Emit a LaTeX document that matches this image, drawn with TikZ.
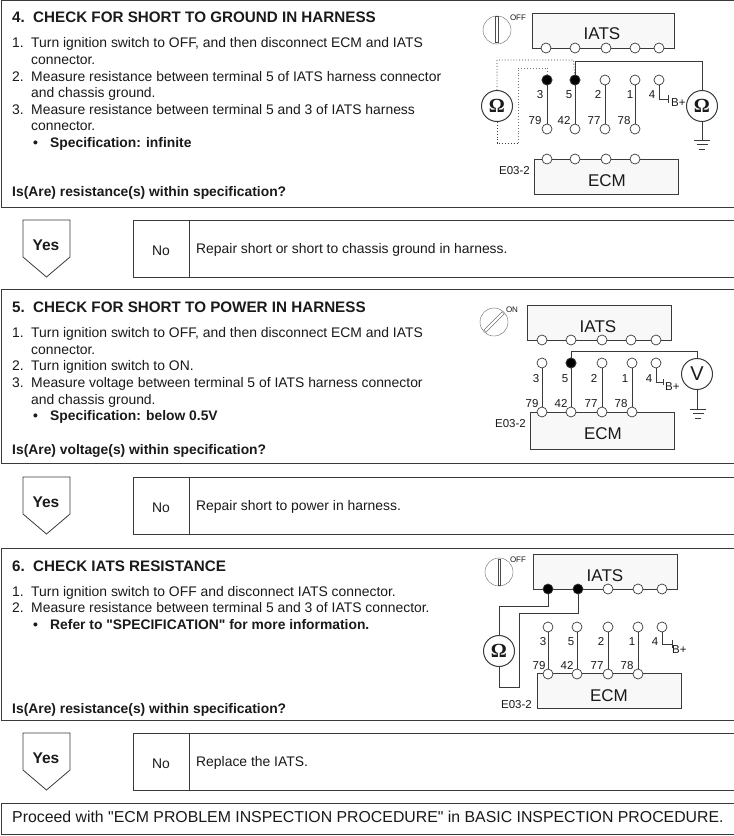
\documentclass[tikz,border=0pt]{standalone}
\usepackage{fontspec}
\setmainfont{Liberation Sans}[Ligatures=TeXOff]
\newfontfamily\meterfont{Liberation Serif}
\usetikzlibrary{calc}

\definecolor{inkline}{HTML}{3A3A3A}
\definecolor{inktext}{HTML}{1A1A1A}
\definecolor{unitfill}{HTML}{F8F8F8}

\tikzset{
    frame/.style={draw=inkline, line width=0.9pt, fill=white, inner sep=0pt, anchor=north west},
    unitbox/.style={draw=inkline, line width=0.8pt, fill=unitfill, inner sep=0pt, minimum width=#1, minimum height=35pt},
    unitname/.style={font=\fontsize{17}{17}\selectfont, text=inktext, inner sep=0pt},
    pin/.style={circle, draw=inkline, line width=0.7pt, fill=white, inner sep=0pt, minimum size=10pt},
    pinon/.style={pin, fill=black},
    pinlabel/.style={font=\fontsize{11.5}{11.5}\selectfont, text=inktext, inner sep=0pt, anchor=base},
    wire/.style={draw=inkline, line width=0.8pt},
    probe/.style={draw=inkline, line width=0.9pt, dotted},
    probegray/.style={draw=black!55, line width=0.9pt, dotted},
    meter/.style={circle, draw=inkline, line width=1pt, fill=white, inner sep=0pt, minimum size=31pt, text=inktext},
    dial/.style={circle, draw=black!60, line width=0.4pt, inner sep=0pt, minimum size=28pt},
    needle/.style={draw=black!70, line width=0.5pt, fill=white, inner sep=0pt, minimum width=3pt, minimum height=26pt},
    keylabel/.style={font=\fontsize{8}{8}\selectfont, text=inktext, inner sep=0pt},
    head/.style={font=\bfseries\fontsize{15.2}{15.2}\selectfont, text=inktext, anchor=base west, inner sep=0pt},
    body/.style={font=\fontsize{13.9}{13.9}\selectfont, text=inktext, anchor=base west, inner sep=0pt},
    strong/.style={body, font=\bfseries\fontsize{13.85}{13.85}\selectfont},
}

% Earth symbol below a named coordinate
\newcommand{\earth}[1]{%
    \draw[wire] ($(#1)+(-8,0)$) -- ($(#1)+(8,0)$);
    \draw[wire] ($(#1)+(-5.5,4.5)$) -- ($(#1)+(5.5,4.5)$);
    \draw[wire] ($(#1)+(-3,9)$) -- ($(#1)+(3,9)$);
}

\begin{document}
\begin{tikzpicture}[x=1pt,y=-1pt]
    \useasboundingbox (0,0) rectangle (734,836);

    % Step frames
    \node[frame, minimum width=733pt, minimum height=207pt] (stepfour) at (0.5,0) {};
    \node[frame, minimum width=733pt, minimum height=174pt] (stepfive) at (0.5,289) {};
    \node[frame, minimum width=733pt, minimum height=172pt] (stepsix) at (0.5,548) {};
    \node[frame, minimum width=733pt, minimum height=31pt] (stepend) at (0.5,803) {};

    % Yes arrows and No boxes
    \foreach \n/\y/\txt in {a/220/Repair short or short to chassis ground in harness.,
                            b/477/Repair short to power in harness.,
                            c/733/Replace the IATS.}{
        \draw[wire] (23,\y) -- (70,\y) -- (70,\y+37) -- (46.5,\y+57) -- (23,\y+37) -- cycle;
        \node[font=\bfseries\fontsize{15.5}{15.5}\selectfont, text=inktext] (yes\n) at (46,\y+25) {Yes};
        \node[frame, minimum width=601pt, minimum height=57pt] (nobox\n) at (133,\y) {};
        \draw[wire] (189,\y) -- (189,\y+57);
        \node[font=\fontsize{13.9}{13.9}\selectfont, text=inktext] (no\n) at (161,\y+30.5) {No};
        \node[body] (fix\n) at (196,\y+33.7) {\txt};
    }

    % Step 4 text
    \node[head] (titlefour) at (12,22) {4.\hspace{0.55em}CHECK FOR SHORT TO GROUND IN HARNESS};
    \node[body] (fa) at (12,47.5) {1.};
    \node[body] (fb) at (31,47.5) {Turn ignition switch to OFF, and then disconnect ECM and IATS};
    \node[body] (fc) at (31,64) {connector.};
    \node[body] (fd) at (12,81) {2.};
    \node[body] (fe) at (31,81) {Measure resistance between terminal 5 of IATS harness connector};
    \node[body] (ff) at (31,97.5) {and chassis ground.};
    \node[body] (fg) at (12,114) {3.};
    \node[body] (fh) at (31,114) {Measure resistance between terminal 5 and 3 of IATS harness};
    \node[body] (fi) at (31,130.5) {connector.};
    \node[strong] (fj) at (33,147) {•};
    \node[strong] (fk) at (50,147) {Specification: infinite};
    \node[strong] (fl) at (12,196) {Is(Are) resistance(s) within specification?};

    % Step 5 text
    \node[head] (titlefive) at (12,312) {5.\hspace{0.55em}CHECK FOR SHORT TO POWER IN HARNESS};
    \node[body] (va) at (12,337) {1.};
    \node[body] (vb) at (31,337) {Turn ignition switch to OFF, and then disconnect ECM and IATS};
    \node[body] (vc) at (31,354) {connector.};
    \node[body] (vd) at (12,370.5) {2.};
    \node[body] (ve) at (31,370.5) {Turn ignition switch to ON.};
    \node[body] (vf) at (12,387) {3.};
    \node[body] (vg) at (31,387) {Measure voltage between terminal 5 of IATS harness connector};
    \node[body] (vh) at (31,404) {and chassis ground.};
    \node[strong] (vi) at (33,420.5) {•};
    \node[strong] (vj) at (50,420.5) {Specification: below 0.5V};
    \node[strong] (vk) at (12,454) {Is(Are) voltage(s) within specification?};

    % Step 6 text
    \node[head] (titlesix) at (12,571) {6.\hspace{0.55em}CHECK IATS RESISTANCE};
    \node[body] (sa) at (12,596) {1.};
    \node[body] (sb) at (31,596) {Turn ignition switch to OFF and disconnect IATS connector.};
    \node[body] (sc) at (12,612.5) {2.};
    \node[body] (sd) at (31,612.5) {Measure resistance between terminal 5 and 3 of IATS connector.};
    \node[strong] (se) at (33,629) {•};
    \node[strong] (sf) at (50,629) {Refer to "SPECIFICATION" for more information.};
    \node[strong] (sg) at (12,713) {Is(Are) resistance(s) within specification?};

    % Closing line
    \node[font=\fontsize{15.85}{15.85}\selectfont, text=inktext, anchor=base west, inner sep=0pt] (closing) at (12,822.5)
        {Proceed with "ECM PROBLEM INSPECTION PROCEDURE" in BASIC INSPECTION PROCEDURE.};

    % ---- Circuit of step 4 ----
    \node[dial] (dialf) at (497,30) {};
    \node[needle] (needlef) at (497,29) {};
    \node[keylabel] (keyf) at (518,18) {OFF};
    \node[unitbox=142pt] (iatsf) at (603,30.5) {};
    \node[unitname] (iatsfname) at (602,33.5) {IATS};
    \node[unitbox=144pt] (ecmf) at (606,176.5) {};
    \node[unitname] (ecmfname) at (607,180.5) {ECM};
    \foreach \n/\x in {a/546,b/575,c/606,d/635,e/659}
        \node[pin] (fi\n) at (\x,48) {};
    \foreach \n/\x in {a/547,b/575,c/606,d/635}
        \node[pin] (fe\n) at (\x,159) {};
    \foreach \n/\a in {a/547,b/575,c/605,d/635}{
        \node[pin] (ft\n) at (\a,80) {};
        \node[pin] (fb\n) at (\a,129) {};
        \draw[wire] (ft\n) -- (fb\n);
    }
    \node[pinon] at (fta) {};
    \node[pinon] at (ftb) {};
    \node[pin] (fte) at (659,80) {};
    \foreach \txt/\x/\y in {3/540/94,5/569/94,2/598/94,1/630/94,4/652/94,79/535/120,42/564/120,77/594/120,78/624/120}
        \node[pinlabel] at (\x,\y+4) {\txt};
    \node[pinlabel, anchor=base east] (connf) at (530,174) {E03-2};
    % B+ stub
    \coordinate (fstuba) at (659,99);
    \coordinate (fstubb) at (668,99);
    \draw[wire] (fte) -- (fstuba) -- (fstubb);
    \draw[wire] ($(fstubb)+(0,-4)$) -- ($(fstubb)+(0,4)$);
    \node[pinlabel, anchor=base west] (bplusf) at (671,106) {B+};
    % Meters
    \node[meter, font=\meterfont\bfseries\fontsize{20}{20}\selectfont] (meterfl) at (497,106) {Ω};
    \node[meter, font=\meterfont\bfseries\fontsize{20}{20}\selectfont] (meterfr) at (702,106) {Ω};
    \coordinate (fra) at (575,61);
    \coordinate (frb) at (702,61);
    \coordinate (frg) at (702,140);
    \draw[wire] (ftb) -- (fra) -- (frb) -- (meterfr);
    \draw[wire] (meterfr) -- (frg);
    \earth{frg}
    \coordinate (fla) at (497,60);
    \coordinate (flb) at (573.5,60);
    \draw[probe] (meterfl) -- (fla) -- (flb) -- (ftb);
    \coordinate (flc) at (497,143);
    \coordinate (fld) at (518,143);
    \coordinate (fle) at (518,68);
    \coordinate (flf) at (547,68);
    \draw[probe] (meterfl) -- (flc) -- (fld);
    \draw[probegray] (fld) -- (fle) -- (flf) -- (fta);

    % ---- Circuit of step 5 ----
    \node[dial] (dialv) at (494,322) {};
    \node[needle, rotate=-45] (needlev) at (494,322) {};
    \node[keylabel] (keyv) at (512,310) {ON};
    \node[unitbox=144pt] (iatsv) at (599,323) {};
    \node[unitname] (iatsvname) at (598,326.5) {IATS};
    \node[unitbox=144pt, minimum height=37pt] (ecmv) at (602,430.5) {};
    \node[unitname] (ecmvname) at (603,433.5) {ECM};
    \foreach \n/\x in {a/542,b/571,c/602,d/631,e/656}
        \node[pin] (vi\n) at (\x,340) {};
    \foreach \n/\a in {a/542,b/571,c/602,d/632}{
        \node[pin] (vt\n) at (\a,363) {};
        \node[pin] (ve\n) at (\a,412) {};
        \draw[wire] (vt\n) -- (ve\n);
    }
    \node[pinon] at (vtb) {};
    \node[pin] (vte) at (656,363) {};
    \foreach \txt/\x/\y in {3/536/378,5/565/378,2/594/378,1/625/378,4/649/378,79/532/403,42/561/403,77/591/403,78/621/403}
        \node[pinlabel] at (\x,\y+4) {\txt};
    \node[pinlabel, anchor=base east] (connv) at (526,427) {E03-2};
    % B+ stub
    \coordinate (vstuba) at (656,382);
    \coordinate (vstubb) at (663,382);
    \draw[wire] (vte) -- (vstuba) -- (vstubb);
    \draw[wire] ($(vstubb)+(0,-3)$) -- ($(vstubb)+(0,3)$);
    \node[pinlabel, anchor=base west] (bplusv) at (665,390) {B+};
    % Meter
    \node[meter, font=\fontsize{20}{20}\selectfont] (meterv) at (697,374) {V};
    \coordinate (vra) at (571,351);
    \coordinate (vrb) at (697,351);
    \coordinate (vrg) at (698,409);
    \draw[wire] (vtb) -- (vra) -- (vrb) -- (meterv);
    \draw[wire] (meterv) -- (meterv |- vrg);
    \earth{vrg}

    % ---- Circuit of step 6 ----
    \node[dial] (dials) at (499,572) {};
    \node[needle, minimum width=2.5pt] (needles) at (499,572) {};
    \node[keylabel] (keys) at (518,560) {OFF};
    \node[unitbox=144pt] (iatss) at (605,572) {};
    \node[unitname] (iatssname) at (605,575.5) {IATS};
    \node[unitbox=144pt] (ecms) at (609,691) {};
    \node[unitname] (ecmsname) at (609,695.5) {ECM};
    \foreach \n/\x in {a/548,b/578}
        \node[pinon] (si\n) at (\x,589) {};
    \foreach \n/\x in {c/608,d/638,e/662}
        \node[pin] (si\n) at (\x,589) {};
    \foreach \n/\a in {a/548,b/577,c/608,d/638}{
        \node[pin] (st\n) at (\a,627) {};
        \node[pin] (se\n) at (\a,674) {};
        \draw[wire] (st\n) -- (se\n);
    }
    \node[pin] (ste) at (662,627) {};
    \foreach \txt/\x/\y in {3/543/641,5/571/641,2/601/641,1/632/641,4/655/641,79/539/665,42/567/665,77/597/665,78/627/665}
        \node[pinlabel] at (\x,\y+4) {\txt};
    \node[pinlabel, anchor=base east] (conns) at (532,708) {E03-2};
    % B+ stub
    \coordinate (sstuba) at (662,644);
    \coordinate (sstubb) at (672,644);
    \draw[wire] (ste) -- (sstuba) -- (sstubb);
    \draw[wire] ($(sstubb)+(0,-4)$) -- ($(sstubb)+(0,4)$);
    \node[pinlabel, anchor=base west] (bpluss) at (672,653) {B+};
    % Meter
    \node[meter, font=\meterfont\bfseries\fontsize{20}{20}\selectfont] (meters) at (499,651) {Ω};
    \coordinate (saa) at (548,606);
    \coordinate (sab) at (499,606);
    \draw[wire] (sia) -- (saa) -- (sab) -- (meters);
    \coordinate (sba) at (499,687);
    \coordinate (sbb) at (519,687);
    \coordinate (sbc) at (519,613);
    \coordinate (sbd) at (578,613);
    \draw[wire] (meters) -- (sba) -- (sbb) -- (sbc) -- (sbd) -- (sib);
\end{tikzpicture}
\end{document}
